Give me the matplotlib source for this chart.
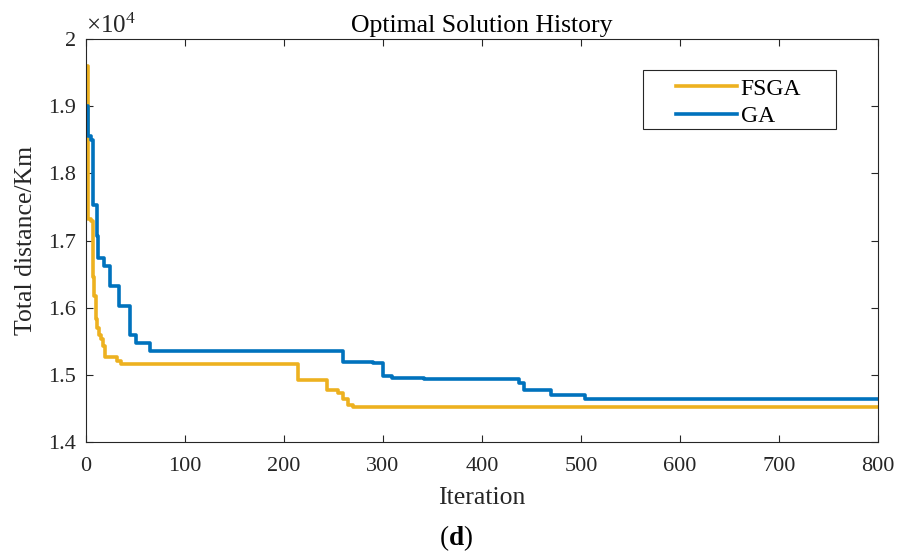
import matplotlib.pyplot as plt
import numpy as np
from matplotlib.patches import Rectangle

plt.rcParams['font.family'] = ['Liberation Serif', 'DejaVu Serif']
plt.rcParams['mathtext.fontset'] = 'custom'
plt.rcParams['mathtext.rm'] = 'Liberation Serif'
plt.rcParams['mathtext.it'] = 'Liberation Serif:italic'
plt.rcParams['mathtext.bf'] = 'Liberation Serif:bold'

# step breakpoints (iteration, total distance)
fsga_iter = [1, 2, 5, 7, 8, 10, 11, 13, 15, 17, 19, 31, 35, 214, 243, 255, 260, 265, 270, 800]
fsga_val = [19600, 17320, 17290, 16450, 16170, 15830, 15700, 15600, 15530, 15430, 15260,
            15210, 15160, 14930, 14780, 14730, 14640, 14550, 14515, 14515]

ga_iter = [1, 2, 5, 7, 11, 12, 18, 24, 33, 44, 50, 65, 260, 290, 300, 309, 341, 437, 442, 470, 504, 800]
ga_val = [19000, 18550, 18500, 17530, 17070, 16740, 16620, 16320, 16030, 15600, 15480, 15350,
          15190, 15180, 14990, 14960, 14935, 14880, 14780, 14700, 14640, 14640]

xticks = [0, 100, 200, 300, 400, 500, 600, 700, 800]
yticks = [1.4, 1.5, 1.6, 1.7, 1.8, 1.9, 2.0]
ytick_labels = ['1.4', '1.5', '1.6', '1.7', '1.8', '1.9', '2']

c_fsga = '#EDB120'
c_ga = '#0072BD'
axc = '#262626'

fig = plt.figure(figsize=(9.02, 5.59), dpi=100)
ax = fig.add_axes([86 / 902, 117 / 559, 792 / 902, 403 / 559])

ax.plot(fsga_iter, np.array(fsga_val) / 1e4, drawstyle='steps-post', color=c_fsga, lw=2.6, label='FSGA')
ax.plot(ga_iter, np.array(ga_val) / 1e4, drawstyle='steps-post', color=c_ga, lw=2.6, label='GA')

ax.set_xlim(0, 800)
ax.set_ylim(1.4, 2.0)
ax.set_xticks(xticks)
ax.set_yticks(yticks)
ax.set_yticklabels(ytick_labels)
ax.tick_params(direction='in', length=5, width=0.8, colors=axc, labelsize=16,
               top=True, right=True)
ax.tick_params(axis='x', pad=11)
ax.tick_params(axis='y', pad=7)
for s in ax.spines.values():
    s.set_color(axc)
    s.set_linewidth(0.8)

ax.set_xlabel('Iteration', fontsize=18.5, color=axc, labelpad=8)
ax.set_ylabel('Total distance/Km', fontsize=18.5, color=axc, labelpad=8)
ax.set_title('Optimal Solution History', fontsize=18.5, color='black', pad=5)
ax.text(0.0, 1.015, r'$\times10^{4}$', transform=ax.transAxes, fontsize=18,
        color=axc, va='baseline', ha='left')

# legend frame (MATLAB style, wide padding)
ax.add_patch(Rectangle((0.7033, 0.7767), 0.2437, 0.1463, transform=ax.transAxes,
                       facecolor='white', edgecolor=axc, lw=0.8, zorder=3))
leg = ax.legend(loc='center', bbox_to_anchor=(0.824, 0.842), fontsize=17, frameon=False,
                handlelength=2.58, handletextpad=0.17, labelspacing=0.25,
                borderpad=0, borderaxespad=0)
leg.set_zorder(4)

fig.text(455.5 / 902, 14 / 559, r'($\mathbf{d}$)', fontsize=19.5, ha='center', va='baseline')

plt.savefig('out.png', dpi=100)
